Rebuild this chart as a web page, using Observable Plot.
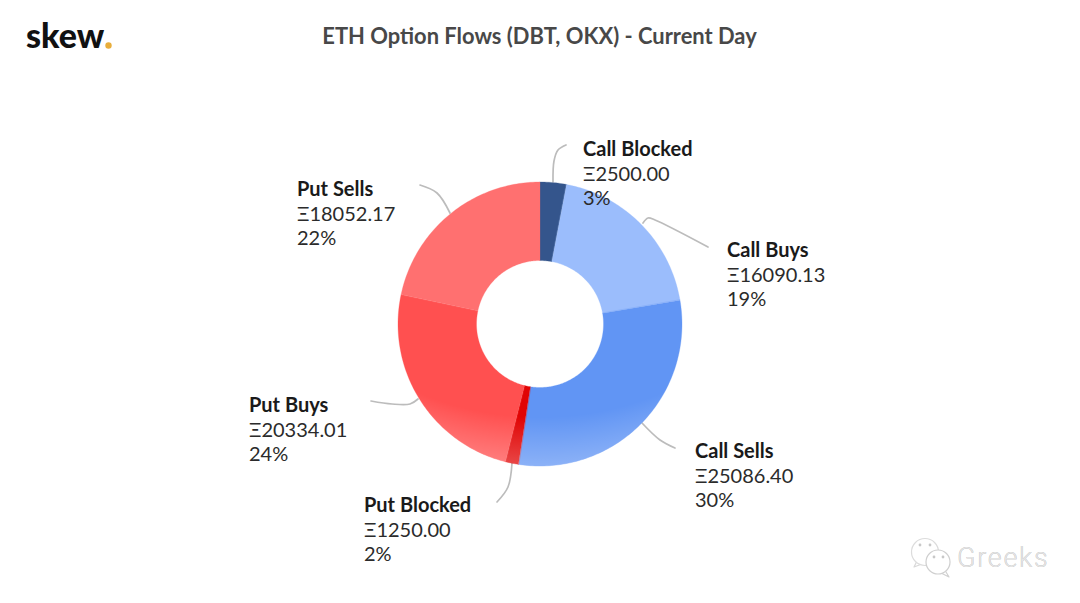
<!DOCTYPE html>
<html>
<head>
<meta charset="utf-8">
<script src="https://cdn.jsdelivr.net/npm/d3@7"></script>
<script src="https://cdn.jsdelivr.net/npm/@observablehq/plot@0.6"></script>
<style>
html,body{margin:0;padding:0;background:#fff}
svg{display:block;font-family:Lato,sans-serif}
.wm{letter-spacing:1.7px}
</style>
</head>
<body>
<div id="chart"></div>
<script>
// --- data
const categories = ["Call Blocked","Call Buys","Call Sells","Put Blocked","Put Buys","Put Sells"];
const flows = [2500.00,16090.13,25086.40,1250.00,20334.01,18052.17];
const titleText = "ETH Option Flows (DBT, OKX) - Current Day";
// --- style
const sliceColors = ["#34558c","#9bbdfc","#6195f4","#e00404","#ff5050","#ff7070"];
// --- layout (page pixels)
const W = 1080, H = 603, cx = 540, cy = 324, R = 142;
const innerRatio = 63.5 / R;
const labelX = [583,727,695,364,249,297];
const labelY = [150.4,251.4,452.4,506.4,406.4,190.4];
const leaders = [
  [[553,182],[554,161],[558,150],[566,145]],
  [[643,223],[648,218],[655,220],[708,247]],
  [[642,423],[660,440],[675,448]],
  [[512,463],[508,487],[497,502]],
  [[418,399],[410,404],[392,404],[371,401]],
  [[450,213],[437,193],[420,185]]
];
const ux = p => (p - cx) / R, uy = p => (cy - p) / R;

const total = d3.sum(flows);
const arcs = d3.pie().sort(null)(flows);
const ring = [];
arcs.forEach((a, i) => {
  const n = Math.max(4, Math.ceil((a.endAngle - a.startAngle) * 60));
  const ts = d3.range(n + 1).map(k => a.startAngle + (a.endAngle - a.startAngle) * k / n);
  ts.forEach(t => ring.push({name: categories[i], x: Math.sin(t), y: Math.cos(t)}));
  ts.slice().reverse().forEach(t => ring.push({name: categories[i], x: innerRatio * Math.sin(t), y: innerRatio * Math.cos(t)}));
});
const labels = categories.map((name, i) => ({
  name, value: "Ξ" + flows[i].toFixed(2), pct: d3.format(".0%")(flows[i] / total),
  x: ux(labelX[i]), y0: uy(labelY[i] - 0.6), y1: uy(labelY[i] + 24.1), y2: uy(labelY[i] + 48)
}));
const leaderPts = leaders.flatMap((l, i) => l.map(([x, y]) => ({name: categories[i], x: ux(x), y: uy(y)})));

const defs = () => {
  const s = d3.create("svg:g");
  const g = s.append("defs").append("radialGradient").attr("id", "shade")
    .attr("gradientUnits", "userSpaceOnUse").attr("cx", 540).attr("cy", 100).attr("r", 366);
  g.append("stop").attr("offset", 0.865).attr("stop-color", "#fff").attr("stop-opacity", 0);
  g.append("stop").attr("offset", 1).attr("stop-color", "#fff").attr("stop-opacity", 0.27);
  return s.node();
};
const px = d => ux(d[0]), py = d => uy(d[1]);

const plot = Plot.plot({
  width: W, height: H, margin: 0,
  x: {axis: null, domain: [ux(0.5), ux(W + 0.5)]},
  y: {axis: null, domain: [uy(H + 0.5), uy(0.5)]},
  color: {domain: categories, range: sliceColors},
  style: {background: "#fff", fontFamily: "Lato, sans-serif"},
  marks: [
    defs,
    Plot.line(leaderPts, {x: "x", y: "y", z: "name", stroke: "#bcbcbc", strokeWidth: 1.7, curve: "catmull-rom"}),
    Plot.line(ring, {x: "x", y: "y", z: "name", fill: "name", stroke: "name", strokeWidth: 0.3, curve: "linear-closed"}),
    Plot.line(ring, {x: "x", y: "y", z: "name", fill: "url(#shade)", stroke: "none", curve: "linear-closed"}),
    Plot.text(labels, {x: "x", y: "y0", text: "name", textAnchor: "start", fontSize: 20, fontWeight: 700, fill: "#1a1a1a"}),
    Plot.text(labels, {x: "x", y: "y1", text: "value", textAnchor: "start", fontSize: 20, fill: "#2b2b2b"}),
    Plot.text(labels, {x: "x", y: "y2", text: "pct", textAnchor: "start", fontSize: 20, fill: "#2b2b2b"}),
    Plot.text([titleText], {x: ux(539.5), y: uy(37), text: d => d, fontSize: 21.9, fontWeight: 700, fill: "#484848"}),
    Plot.text(["skew"], {x: ux(26), y: uy(37), text: d => d, textAnchor: "start", fontSize: 34, fontWeight: 900, fontFamily: "Lato", fill: "#111"}),
    Plot.dot(["."], {x: ux(108.5), y: uy(45.5), r: 3.2, fill: "#e8ae3c"}),
    // watermark
    Plot.line([[917,561],[914,567],[922,564]], {x: px, y: py, stroke: "#d8d8d8", strokeWidth: 1.2}),
    Plot.line([[946,572],[949,577],[941,573]], {x: px, y: py, stroke: "#d0d0d0", strokeWidth: 1.2}),
    Plot.dot([[925,552]], {x: px, y: py, r: 13.5, fill: "#fff", stroke: "#dcdcdc", strokeWidth: 1.2}),
    Plot.dot([[938,562]], {x: px, y: py, r: 12, fill: "#fff", stroke: "#cfcfcf", strokeWidth: 1.2}),
    Plot.dot([[920,545],[930,545],[934,557],[943,557]], {x: px, y: py, r: 1.4, fill: "#c8c8c8"}),
    Plot.text(["Greeks"], {x: ux(957), y: uy(558.6), text: d => d, textAnchor: "start", fontSize: 27, fontFamily: "Roboto", fontWeight: 300, fill: "#a4a4a4", className: "wm"}),
    Plot.text(["Greeks"], {x: ux(957), y: uy(558), text: d => d, textAnchor: "start", fontSize: 27, fontFamily: "Roboto", fontWeight: 300, fill: "#e4e4e4", className: "wm"})
  ]
});
document.getElementById("chart").append(plot);
</script>
</body>
</html>
